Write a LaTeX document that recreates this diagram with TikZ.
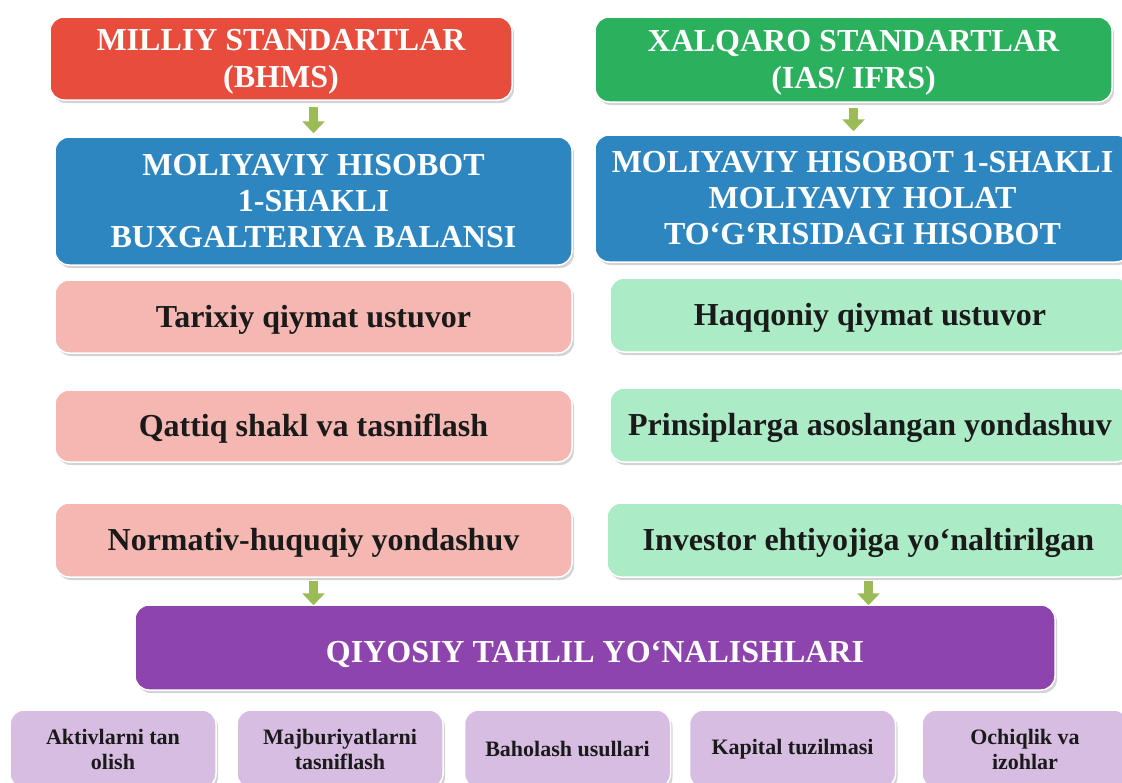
\documentclass[tikz,border=0pt]{standalone}
\usepackage{fontspec}
\setmainfont{Liberation Serif}
\usetikzlibrary{arrows.meta,shadows}
\definecolor{redbox}{HTML}{E84C3D}
\definecolor{greenbox}{HTML}{2BB15E}
\definecolor{bluebox}{HTML}{2E86C1}
\definecolor{pinkbox}{HTML}{F5B7B1}
\definecolor{mintbox}{HTML}{ABEBC6}
\definecolor{purplebox}{HTML}{8E44AD}
\definecolor{lilacbox}{HTML}{D7BDE2}
\definecolor{arrowgreen}{HTML}{9BBB59}
\definecolor{darktext}{HTML}{1A1A1A}

\begin{document}
\begin{tikzpicture}[x=1pt,y=-1pt,
  box/.style={rounded corners=14pt,draw=white,line width=1.5pt,align=center,
    drop shadow={opacity=0.35,shadow xshift=2pt,shadow yshift=-3pt},
    font=\bfseries\fontsize{32}{36}\selectfont,text=white},
  headbox/.style={box,font=\bfseries\fontsize{32}{37}\selectfont,text height=65pt},
  lightbox/.style={box,text=darktext,text height=26pt,text depth=5pt},
  smallbox/.style={box,fill=lilacbox,text=darktext,minimum width=206pt,minimum height=78pt,
    font=\bfseries\fontsize{22}{25}\selectfont},
  arr/.style={draw=arrowgreen,line width=9pt,-{Triangle[width=22pt,length=12pt]}}]
\useasboundingbox (0,0) rectangle (1122,782);
\clip (0,0) rectangle (1122,782);

% standartlar
\node[headbox,fill=redbox,minimum width=462pt,minimum height=83pt] (milliy) at (281,58.5)
  {MILLIY STANDARTLAR\\(BHMS)};
\node[headbox,fill=greenbox,minimum width=517pt,minimum height=85pt] (xalqaro) at (853.5,59.5)
  {XALQARO STANDARTLAR\\(IAS/ IFRS)};

% hisobot shakli
\node[box,fill=bluebox,minimum width=517pt,minimum height=128pt] (balans) at (313.5,201)
  {MOLIYAVIY HISOBOT\\1-SHAKLI\\BUXGALTERIYA BALANSI};
\node[box,fill=bluebox,minimum width=535pt,minimum height=127pt] (holat) at (862.5,198.5)
  {MOLIYAVIY HISOBOT 1-SHAKLI\\MOLIYAVIY HOLAT\\TO‘G‘RISIDAGI HISOBOT};

% xususiyatlar
\node[lightbox,fill=pinkbox,minimum width=517pt,minimum height=73pt] (tarixiy) at (313.5,316.5)
  {Tarixiy qiymat ustuvor};
\node[lightbox,fill=pinkbox,minimum width=517pt,minimum height=72pt] (qattiq) at (313.5,426)
  {Qattiq shakl va tasniflash};
\node[lightbox,fill=pinkbox,minimum width=517pt,minimum height=74pt] (normativ) at (313.5,540)
  {Normativ-huquqiy yondashuv};
\node[lightbox,fill=mintbox,minimum width=520pt,minimum height=74pt] (haqqoniy) at (870,315)
  {Haqqoniy qiymat ustuvor};
\node[lightbox,fill=mintbox,minimum width=520pt,minimum height=74pt] (prinsip) at (870,425)
  {Prinsiplarga asoslangan yondashuv};
\node[lightbox,fill=mintbox,minimum width=523pt,minimum height=74pt] (investor) at (868.5,540)
  {Investor ehtiyojiga yo‘naltirilgan};

% tahlil
\node[box,fill=purplebox,minimum width=920pt,minimum height=85pt,text height=31pt,text depth=2pt]
  (tahlil) at (595,647.5) {QIYOSIY TAHLIL YO‘NALISHLARI};

\node[smallbox] (aktiv) at (113,749) {Aktivlarni tan\\olish};
\node[smallbox] (majbur) at (340,749) {Majburiyatlarni\\tasniflash};
\node[smallbox] (baho) at (567.5,749) {Baholash usullari};
\node[smallbox] (kapital) at (792.5,749) {Kapital tuzilmasi};
\node[smallbox] (ochiq) at (1025,749) {Ochiqlik va\\izohlar};

% strelkalar
\draw[arr,shorten <=6pt,shorten >=3pt] (milliy.south -| balans.north) -- (balans.north);
\draw[arr,shorten <=5pt,shorten >=3pt] (xalqaro.south) -- (xalqaro.south |- holat.north);
\draw[arr,shorten <=3pt,shorten >=-1pt] (normativ.south) -- (normativ.south |- tahlil.north);
\draw[arr,shorten <=3pt,shorten >=-1pt] (investor.south) -- (investor.south |- tahlil.north);

\end{tikzpicture}
\end{document}
